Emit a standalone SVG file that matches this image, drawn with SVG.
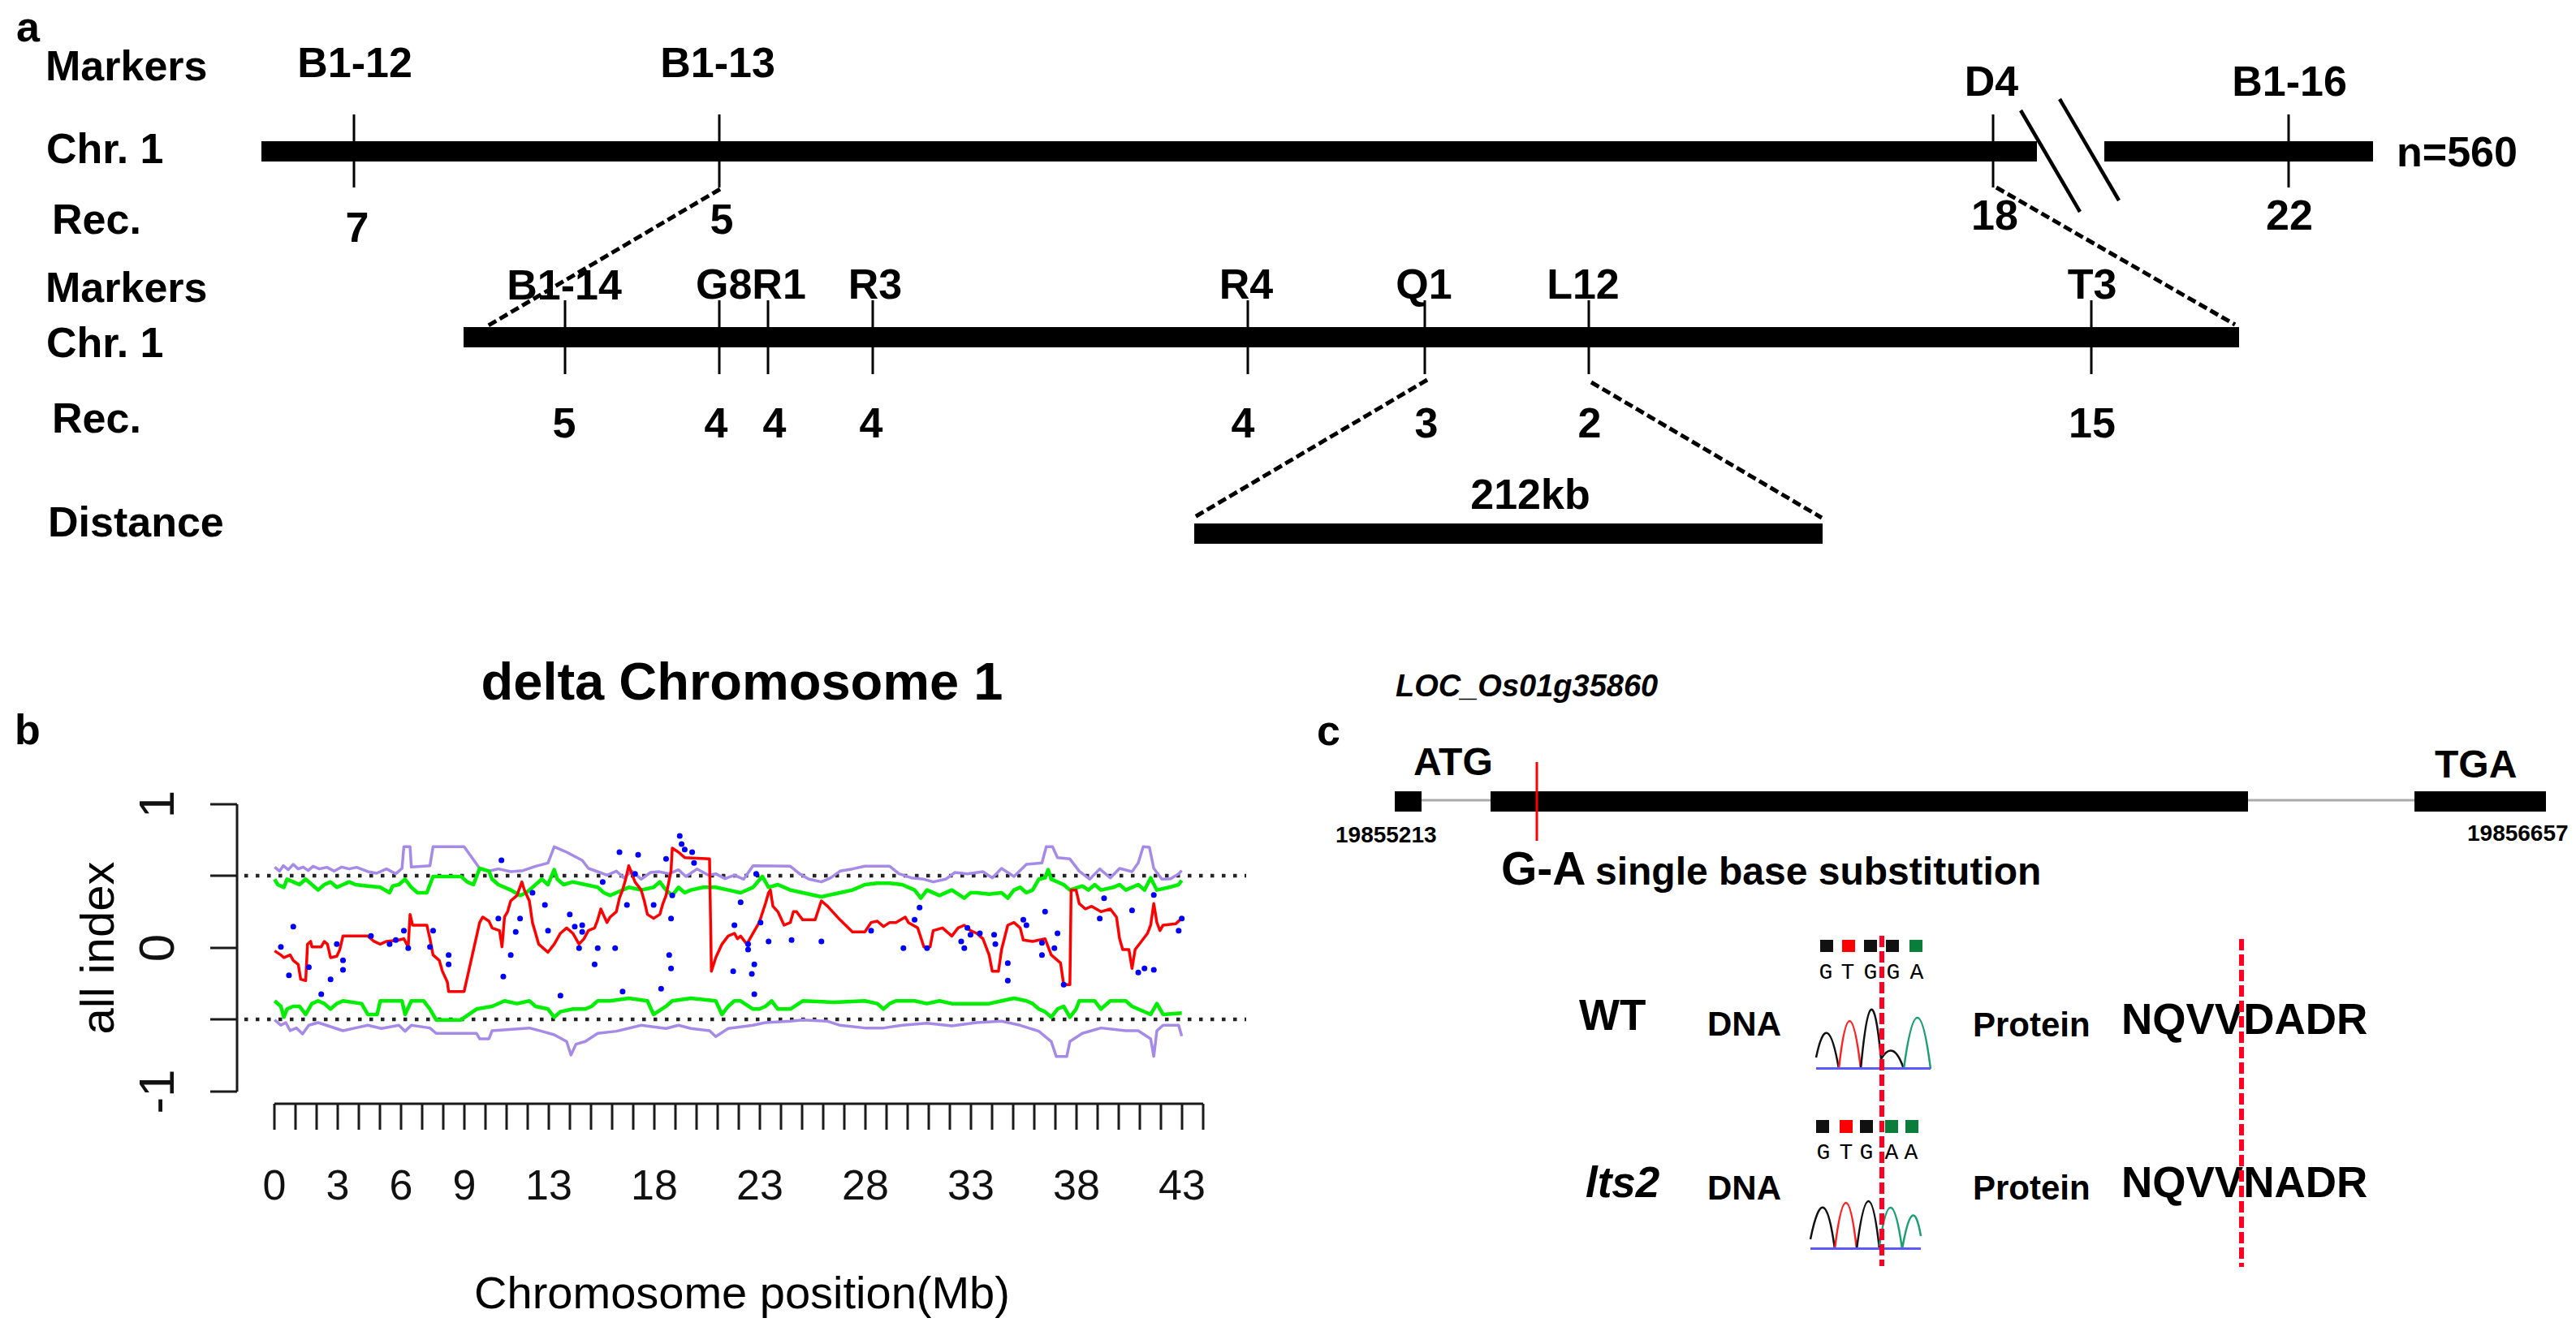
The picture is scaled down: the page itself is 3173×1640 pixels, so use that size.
<svg xmlns="http://www.w3.org/2000/svg" width="3173" height="1640" viewBox="0 0 3173 1640">
<style>
  text { font-family: "Liberation Sans", Arial, sans-serif; fill: #000; }
  .lb { font-weight: bold; font-size: 52px; }
  .mk { font-weight: bold; font-size: 52px; text-anchor: middle; }
  .tick { stroke: #000; stroke-width: 3; }
  .dash { stroke: #000; stroke-width: 5; stroke-dasharray: 11 5; fill: none; }
  .bar { fill: #000; }
  .ax { stroke: #1a1a1a; stroke-width: 3; fill: none; }
  .axl { font-size: 52px; text-anchor: middle; fill: #111; }
  .ayl { font-size: 62px; text-anchor: middle; fill: #111; }
  .ser { fill: none; vector-effect: non-scaling-stroke; stroke-linejoin: round; }
  .dots { fill: none; stroke: #0000ff; stroke-width: 7; stroke-linecap: round; vector-effect: non-scaling-stroke; }
  .rdash { stroke: #ff0022; stroke-width: 6; stroke-dasharray: 14 5; fill: none; }
  .seq { font-family: "Liberation Mono", "Courier New", monospace; font-size: 28px; text-anchor: middle; }
  .pk { fill: none; stroke-width: 2.5; }
</style>
<rect width="3173" height="1640" fill="#fff"/>

<!-- ================= Panel a ================= -->
<g id="panel-a">
  <text id="label-a" class="lb" x="20" y="51">a</text>
  <g id="row-labels">
    <text class="lb" x="56" y="99">Markers</text>
    <text class="lb" x="57" y="201">Chr. 1</text>
    <text class="lb" x="64" y="288">Rec.</text>
    <text class="lb" x="56" y="372">Markers</text>
    <text class="lb" x="57" y="440">Chr. 1</text>
    <text class="lb" x="64" y="533">Rec.</text>
    <text class="lb" x="59" y="661">Distance</text>
  </g>

  <g id="chr-top">
    <rect class="bar" x="322" y="174" width="2187" height="25"/>
    <rect class="bar" x="2592" y="174" width="331" height="25"/>
    <text class="lb" x="2952" y="205">n=560</text>
    <line x1="2489" y1="136" x2="2562" y2="261" stroke="#000" stroke-width="4.5"/>
    <line x1="2537" y1="122" x2="2610" y2="247" stroke="#000" stroke-width="4.5"/>
  </g>
  <g id="m-B1-12"><line class="tick" x1="436" y1="141" x2="436" y2="231"/><text class="mk" x="437" y="95">B1-12</text><text class="mk" x="440" y="298">7</text></g>
  <g id="m-B1-13"><line class="tick" x1="886" y1="141" x2="886" y2="231"/><text class="mk" x="884" y="95">B1-13</text><text class="mk" x="889" y="288">5</text></g>
  <g id="m-D4"><line class="tick" x1="2455" y1="141" x2="2455" y2="231"/><text class="mk" x="2453" y="118">D4</text><text class="mk" x="2457" y="283">18</text></g>
  <g id="m-B1-16"><line class="tick" x1="2819" y1="141" x2="2819" y2="231"/><text class="mk" x="2820" y="118">B1-16</text><text class="mk" x="2820" y="283">22</text></g>

  <g id="chr-mid">
    <rect class="bar" x="571" y="403" width="2187" height="25"/>
  </g>
  <g id="m-B1-14"><line class="tick" x1="696" y1="370" x2="696" y2="461"/><text class="mk" x="695" y="369">B1-14</text><text class="mk" x="695" y="539">5</text></g>
  <g id="m-G8"><line class="tick" x1="886" y1="370" x2="886" y2="461"/><text class="mk" x="882" y="539">4</text></g>
  <g id="m-R1"><line class="tick" x1="946" y1="370" x2="946" y2="461"/><text class="mk" x="954" y="539">4</text></g>
  <text id="lbl-G8R1" class="lb" x="857" y="368">G8R1</text>
  <g id="m-R3"><line class="tick" x1="1075" y1="370" x2="1075" y2="461"/><text class="mk" x="1078" y="368">R3</text><text class="mk" x="1073" y="539">4</text></g>
  <g id="m-R4"><line class="tick" x1="1537" y1="370" x2="1537" y2="461"/><text class="mk" x="1535" y="368">R4</text><text class="mk" x="1531" y="539">4</text></g>
  <g id="m-Q1"><line class="tick" x1="1755" y1="370" x2="1755" y2="461"/><text class="mk" x="1754" y="368">Q1</text><text class="mk" x="1757" y="539">3</text></g>
  <g id="m-L12"><line class="tick" x1="1957" y1="370" x2="1957" y2="461"/><text class="mk" x="1950" y="368">L12</text><text class="mk" x="1958" y="539">2</text></g>
  <g id="m-T3"><line class="tick" x1="2576" y1="370" x2="2576" y2="461"/><text class="mk" x="2577" y="368">T3</text><text class="mk" x="2577" y="539">15</text></g>

  <g id="distance">
    <rect class="bar" x="1471" y="645" width="774" height="25"/>
    <text class="mk" x="1885" y="627">212kb</text>
  </g>

  <g id="connectors-a">
    <line class="dash" x1="887" y1="233" x2="600" y2="402"/>
    <line class="dash" x1="2459" y1="231" x2="2753" y2="400"/>
    <line class="dash" x1="1758" y1="468" x2="1470" y2="638"/>
    <line class="dash" x1="1960" y1="471" x2="2244" y2="638"/>
  </g>
</g>

<!-- ================= Panel b ================= -->
<g id="panel-b">
  <text id="label-b" class="lb" x="18" y="917">b</text>
  <text id="title-b" x="914" y="862" font-size="65" font-weight="bold" text-anchor="middle">delta Chromosome 1</text>

  <g id="y-axis">
    <path class="ax" d="M292 991 V1345 M259 991 H292 M259 1079 H292 M259 1168 H292 M259 1256 H292 M259 1345 H292"/>
    <text class="ayl" transform="translate(214 991) rotate(-90)">1</text>
    <text class="ayl" transform="translate(214 1168) rotate(-90)">0</text>
    <text class="ayl" transform="translate(214 1345) rotate(-90)">-1</text>
    <text transform="translate(140 1168) rotate(-90)" font-size="58" text-anchor="middle" fill="#111">all index</text>
  </g>

  <g id="x-axis">
    <path class="ax" d="M338 1360 H1482 M338 1360 v32 M364 1360 v32 M390 1360 v32 M416 1360 v32 M442 1360 v32 M468 1360 v32 M494 1360 v32 M520 1360 v32 M546 1360 v32 M572 1360 v32 M598 1360 v32 M624 1360 v32 M650 1360 v32 M676 1360 v32 M702 1360 v32 M728 1360 v32 M754 1360 v32 M780 1360 v32 M806 1360 v32 M832 1360 v32 M858 1360 v32 M884 1360 v32 M910 1360 v32 M936 1360 v32 M962 1360 v32 M988 1360 v32 M1014 1360 v32 M1040 1360 v32 M1066 1360 v32 M1092 1360 v32 M1118 1360 v32 M1144 1360 v32 M1170 1360 v32 M1196 1360 v32 M1222 1360 v32 M1248 1360 v32 M1274 1360 v32 M1300 1360 v32 M1326 1360 v32 M1352 1360 v32 M1378 1360 v32 M1404 1360 v32 M1430 1360 v32 M1456 1360 v32 M1482 1360 v32"/>
    <text class="axl" x="338" y="1478">0</text>
    <text class="axl" x="416" y="1478">3</text>
    <text class="axl" x="494" y="1478">6</text>
    <text class="axl" x="572" y="1478">9</text>
    <text class="axl" x="676" y="1478">13</text>
    <text class="axl" x="806" y="1478">18</text>
    <text class="axl" x="936" y="1478">23</text>
    <text class="axl" x="1066" y="1478">28</text>
    <text class="axl" x="1196" y="1478">33</text>
    <text class="axl" x="1326" y="1478">38</text>
    <text class="axl" x="1456" y="1478">43</text>
    <text x="914" y="1612" font-size="56" text-anchor="middle" fill="#111">Chromosome position(Mb)</text>
  </g>

  <g id="thresholds">
    <line x1="301" y1="1079" x2="1535" y2="1079" stroke="#222" stroke-width="4.5" stroke-dasharray="4.5 9.5"/>
    <line x1="301" y1="1256" x2="1535" y2="1256" stroke="#222" stroke-width="4.5" stroke-dasharray="4.5 9.5"/>
  </g>

  <g id="series" transform="translate(300 950) scale(0.7653 0.3333)">
    <polyline id="purple-up" class="ser" stroke="#a58ae8" stroke-width="3.5" points="50,355 58,370 64,350 72,365 80,345 88,362 96,355 104,368 112,352 122,362 134,356 146,370 158,355 170,362 182,356 200,372 214,378 230,362 245,380 255,360 258,280 268,280 270,355 300,350 305,280 355,280 380,360 395,370 410,362 430,372 450,368 470,352 490,340 500,280 510,290 520,300 545,330 555,360 570,372 585,385 600,370 612,395 625,370 640,400 655,375 668,372 685,380 700,365 712,390 730,362 748,385 760,380 775,398 790,385 805,400 820,350 880,352 895,380 910,400 930,410 945,395 960,370 980,362 1000,352 1040,352 1055,380 1075,395 1095,400 1110,410 1130,400 1145,375 1165,380 1190,372 1205,395 1220,360 1240,390 1260,345 1285,340 1292,280 1302,280 1310,320 1330,325 1345,370 1362,400 1378,362 1395,395 1410,360 1430,372 1440,340 1448,280 1458,282 1465,360 1478,400 1492,398 1505,380 1510,368"/>
    <polyline id="purple-low" class="ser" stroke="#a58ae8" stroke-width="3.5" points="50,920 60,940 68,930 75,960 85,950 95,972 105,940 120,930 140,945 160,960 180,950 200,940 222,952 250,940 260,962 270,940 300,950 310,970 375,970 380,990 395,990 400,960 460,950 480,962 500,975 520,1000 527,1050 535,1010 550,1000 570,970 600,962 640,940 680,952 700,940 720,952 750,960 760,982 780,952 820,940 840,930 880,925 900,920 940,925 960,940 1000,950 1030,950 1060,940 1100,932 1140,942 1180,930 1220,925 1250,940 1280,962 1300,1000 1308,1055 1325,1055 1330,1000 1350,970 1380,950 1420,960 1440,960 1460,990 1465,1055 1470,960 1480,940 1505,940 1510,980"/>
    <polyline id="green-up" class="ser" stroke="#00ee00" stroke-width="4.5" points="50,400 55,420 65,430 70,400 80,410 90,420 100,400 110,420 120,440 130,420 140,410 150,430 160,420 170,410 180,420 200,425 220,430 235,450 240,425 250,420 260,400 270,430 280,450 295,450 300,420 305,390 350,390 360,410 370,420 380,360 395,370 400,400 410,420 430,440 445,460 455,450 470,420 480,400 490,420 500,365 505,400 515,420 530,410 550,420 570,430 580,450 590,460 600,450 620,430 640,440 660,430 670,410 680,440 690,460 700,430 710,450 720,440 740,430 760,430 780,440 800,450 820,430 835,390 845,430 860,420 880,440 900,450 930,465 960,450 980,440 1000,420 1020,415 1040,415 1060,420 1080,440 1090,470 1100,440 1120,460 1140,440 1160,470 1170,450 1180,450 1200,455 1220,450 1230,470 1240,440 1250,430 1260,450 1270,440 1280,400 1290,395 1295,365 1300,400 1320,420 1330,440 1350,425 1360,440 1370,420 1380,440 1400,430 1410,420 1420,440 1440,420 1450,440 1460,395 1470,440 1490,430 1505,420 1510,405"/>
    <polyline id="green-low" class="ser" stroke="#00ee00" stroke-width="4.5" points="50,850 60,870 65,910 70,880 80,870 90,870 100,900 110,860 120,850 130,860 140,880 150,860 160,850 190,860 200,900 215,900 220,850 255,850 260,900 270,850 290,850 300,880 310,920 350,920 375,880 400,870 420,850 440,860 460,850 470,870 490,880 500,910 510,890 530,880 550,880 560,870 570,850 590,850 620,840 650,850 660,900 680,870 690,850 720,840 760,850 770,900 780,870 790,850 800,850 820,880 830,880 840,870 850,850 860,880 880,880 900,850 950,855 1000,850 1020,860 1030,880 1040,860 1050,850 1080,850 1100,860 1120,850 1140,860 1160,860 1200,860 1220,850 1240,840 1260,850 1270,860 1280,880 1290,890 1300,910 1310,880 1320,870 1330,910 1340,880 1345,850 1370,850 1380,880 1395,850 1420,850 1430,870 1460,900 1470,860 1480,900 1510,895"/>
    <polyline id="red-line" class="ser" stroke="#ff0000" stroke-width="3.5" points="50,665 60,680 65,690 75,680 80,700 88,715 92,770 100,775 103,640 108,630 110,650 125,650 130,630 135,640 140,690 150,685 155,660 160,610 200,610 210,630 220,640 230,630 250,625 258,620 265,650 268,530 272,570 295,570 300,620 305,680 315,700 320,740 328,780 330,815 355,815 380,560 385,540 395,555 400,580 412,590 416,650 420,540 425,520 430,480 440,460 448,410 452,440 460,480 465,560 475,640 490,670 500,640 510,600 520,580 530,600 540,640 548,620 555,590 565,580 570,550 575,510 585,560 590,540 600,520 605,470 610,440 615,400 620,350 625,380 630,410 640,440 645,480 650,530 660,545 670,530 675,490 680,460 688,370 690,285 700,300 710,320 750,325 753,740 760,690 770,640 780,610 790,600 795,620 800,610 810,640 820,600 830,560 840,490 845,450 848,440 852,500 860,520 870,570 880,560 885,520 890,520 900,550 920,550 930,480 940,500 960,550 980,595 1000,595 1010,560 1020,555 1030,575 1040,560 1050,560 1065,540 1070,560 1085,580 1095,650 1105,650 1110,590 1125,580 1140,610 1150,580 1160,570 1170,590 1180,600 1190,620 1200,680 1205,740 1215,740 1220,660 1230,570 1240,560 1250,580 1255,625 1270,630 1290,620 1300,680 1315,710 1320,790 1330,790 1332,440 1340,440 1345,490 1355,510 1365,500 1380,520 1395,510 1405,540 1410,620 1415,660 1425,660 1430,730 1435,660 1445,630 1455,600 1460,570 1465,490 1470,560 1475,590 1480,570 1500,565 1510,545"/>
    <path id="blue-dots" class="dots" d="M60 650h0.1 M80 575h0.1 M73 755h0.1 M105 725h0.1 M125 825h0.1 M140 770h0.1 M150 640h0.1 M160 700h0.1 M160 735h0.1 M205 610h0.1 M235 640h0.1 M245 625h0.1 M258 590h0.1 M265 655h0.1 M305 590h0.1 M300 650h0.1 M330 680h0.1 M330 715h0.1 M410 545h0.1 M415 330h0.1 M418 760h0.1 M430 680h0.1 M438 595h0.1 M445 545h0.1 M465 450h0.1 M485 495h0.1 M490 590h0.1 M510 830h0.1 M525 530h0.1 M533 575h0.1 M545 570h0.1 M545 595h0.1 M540 655h0.1 M565 715h0.1 M570 655h0.1 M578 410h0.1 M598 655h0.1 M605 300h0.1 M610 815h0.1 M617 495h0.1 M635 310h0.1 M630 380h0.1 M660 495h0.1 M672 805h0.1 M680 325h0.1 M685 680h0.1 M688 730h0.1 M688 545h0.1 M690 460h0.1 M702 240h0.1 M705 270h0.1 M710 290h0.1 M722 300h0.1 M725 340h0.1 M788 740h0.1 M790 570h0.1 M800 485h0.1 M812 640h0.1 M812 660h0.1 M818 750h0.1 M822 715h0.1 M822 825h0.1 M825 380h0.1 M832 560h0.1 M845 630h0.1 M882 625h0.1 M930 630h0.1 M1010 590h0.1 M1062 655h0.1 M1088 505h0.1 M1080 550h0.1 M1100 655h0.1 M1155 630h0.1 M1160 655h0.1 M1165 580h0.1 M1170 605h0.1 M1185 600h0.1 M1208 605h0.1 M1210 640h0.1 M1230 710h0.1 M1230 775h0.1 M1255 550h0.1 M1260 570h0.1 M1285 635h0.1 M1290 520h0.1 M1285 680h0.1 M1305 655h0.1 M1310 600h0.1 M1320 790h0.1 M1385 470h0.1 M1378 545h0.1 M1430 515h0.1 M1440 745h0.1 M1450 730h0.1 M1465 735h0.1 M1465 458h0.1 M1505 590h0.1 M1510 545h0.1"/>
  </g>
</g>

<!-- ================= Panel c ================= -->
<g id="panel-c">
  <text id="label-c" class="lb" x="1622" y="918" font-size="48">c</text>
  <text id="gene-name" x="1719" y="858" font-size="38" font-weight="bold" font-style="italic">LOC_Os01g35860</text>

  <g id="gene-model">
    <line x1="1718" y1="986" x2="3136" y2="986" stroke="#aaaaaa" stroke-width="3"/>
    <rect class="bar" x="1718" y="975" width="33" height="25"/>
    <rect class="bar" x="1836" y="975" width="933" height="25"/>
    <rect class="bar" x="2974" y="975" width="162" height="25"/>
    <text x="1741" y="955" font-size="48" font-weight="bold">ATG</text>
    <text x="2999" y="958" font-size="48" font-weight="bold">TGA</text>
    <text x="1645" y="1038" font-size="28" font-weight="bold">19855213</text>
    <text x="3039" y="1036" font-size="28" font-weight="bold">19856657</text>
  </g>
  <g id="mutation-site">
    <line x1="1893" y1="939" x2="1893" y2="1036" stroke="#ff0000" stroke-width="3"/>
    <text x="1849" y="1090" font-size="57" font-weight="bold">G-A</text>
    <text x="1965" y="1090" font-size="48" font-weight="bold">single base substitution</text>
  </g>

  <g id="row-WT">
    <text x="1945" y="1269" font-size="53" font-weight="bold">WT</text>
    <text x="2103" y="1276" font-size="42" font-weight="bold">DNA</text>
    <text x="2430" y="1277" font-size="42" font-weight="bold">Protein</text>
    <text x="2613" y="1274" font-size="53" font-weight="bold">NQVVDADR</text>
    <g id="chrom-WT">
      <rect x="2242" y="1158" width="16" height="15" fill="#111"/>
      <rect x="2269" y="1158" width="16" height="15" fill="#ff0000"/>
      <rect x="2296" y="1158" width="16" height="15" fill="#111"/>
      <rect x="2323" y="1158" width="16" height="15" fill="#111"/>
      <rect x="2352" y="1158" width="16" height="15" fill="#0a7d3a"/>
      <text class="seq" x="2249" y="1206" fill="#444">G</text>
      <text class="seq" x="2276" y="1206" fill="#ff2020">T</text>
      <text class="seq" x="2304" y="1206" fill="#444">G</text>
      <text class="seq" x="2332" y="1206" fill="#444">G</text>
      <text class="seq" x="2361" y="1206" fill="#1aa070">A</text>
      <path class="pk" stroke="#111" d="M2237 1303 Q2251 1236 2265 1317"/>
      <path class="pk" stroke="#ff2020" d="M2265 1317 Q2278 1199 2292 1317"/>
      <path class="pk" stroke="#111" d="M2292 1317 Q2305 1177 2317 1305 Q2332 1279 2345 1317"/>
      <path class="pk" stroke="#1aa070" d="M2345 1317 Q2362 1191 2378 1317"/>
      <rect x="2237" y="1315" width="141" height="3" fill="#5a5aff"/>
    </g>
  </g>

  <g id="row-lts2">
    <text x="1953" y="1475" font-size="53" font-weight="bold" font-style="italic">lts2</text>
    <text x="2103" y="1478" font-size="42" font-weight="bold">DNA</text>
    <text x="2430" y="1478" font-size="42" font-weight="bold">Protein</text>
    <text x="2613" y="1475" font-size="53" font-weight="bold">NQVVNADR</text>
    <g id="chrom-lts2">
      <rect x="2237" y="1380" width="16" height="16" fill="#111"/>
      <rect x="2266" y="1380" width="16" height="16" fill="#ff0000"/>
      <rect x="2291" y="1380" width="16" height="16" fill="#111"/>
      <rect x="2322" y="1380" width="16" height="16" fill="#0a7d3a"/>
      <rect x="2347" y="1380" width="16" height="16" fill="#0a7d3a"/>
      <text class="seq" x="2246" y="1428" fill="#444">G</text>
      <text class="seq" x="2274" y="1428" fill="#ff2020">T</text>
      <text class="seq" x="2299" y="1428" fill="#444">G</text>
      <text class="seq" x="2330" y="1428" fill="#1aa070">A</text>
      <text class="seq" x="2354" y="1428" fill="#1aa070">A</text>
      <path class="pk" stroke="#111" d="M2230 1527 Q2247 1443 2260 1539"/>
      <path class="pk" stroke="#ff2020" d="M2260 1539 Q2274 1425 2287 1539"/>
      <path class="pk" stroke="#111" d="M2287 1539 Q2302 1421 2315 1539"/>
      <path class="pk" stroke="#1aa070" d="M2315 1535 Q2329 1439 2343 1539 Q2356 1465 2366 1523"/>
      <rect x="2230" y="1537" width="136" height="3" fill="#5a5aff"/>
    </g>
  </g>

  <g id="connectors-c">
    <line class="rdash" x1="2318" y1="1153" x2="2318" y2="1560"/>
    <line class="rdash" x1="2761" y1="1157" x2="2761" y2="1561"/>
  </g>
</g>
</svg>
